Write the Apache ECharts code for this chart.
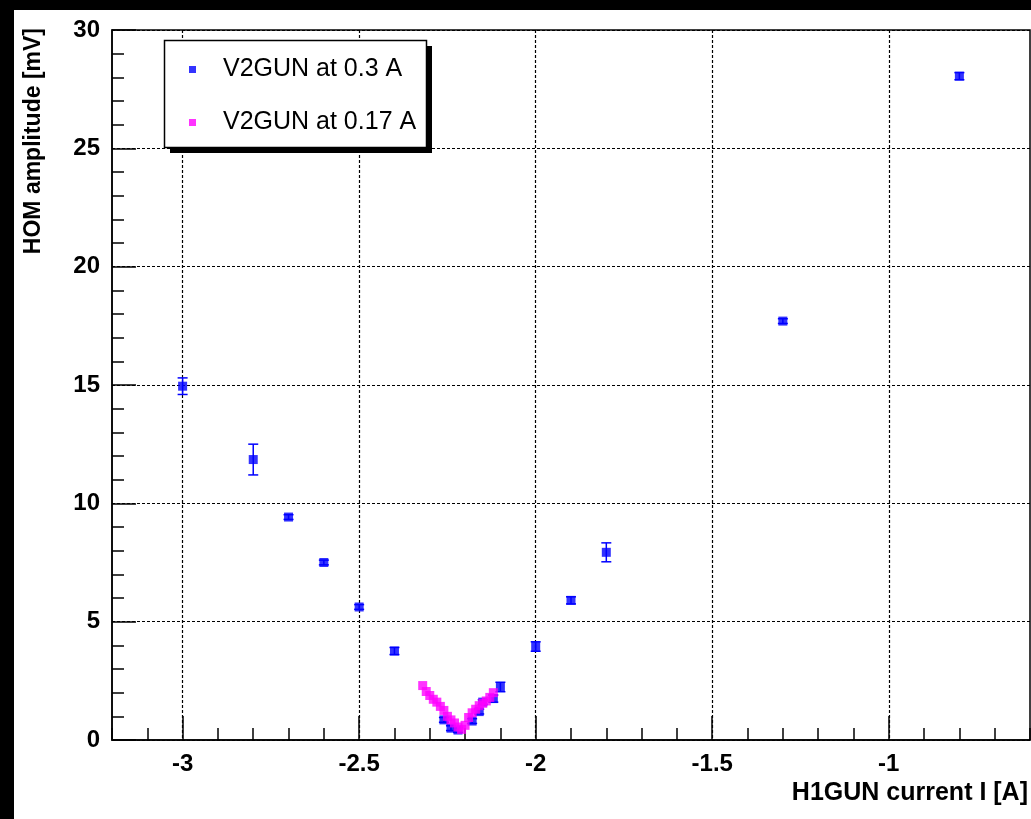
<!DOCTYPE html>
<html>
<head>
<meta charset="utf-8">
<script src="https://cdn.jsdelivr.net/npm/echarts@6/dist/echarts.min.js"></script>
<style>
  body { margin: 0; background: #000; width: 1031px; height: 819px; overflow: hidden; }
  #chart { position: absolute; left: 14px; top: 10px; width: 1017px; height: 809px; background: #fff; }
</style>
</head>
<body>
<div id="chart"></div>
<script>
// V2GUN at 0.3 A
var blueX   = [-3, -2.8, -2.7, -2.6, -2.5, -2.4, -2.26, -2.24, -2.22, -2.18, -2.16, -2.15, -2.12, -2.1, -2.0, -1.9, -1.8, -1.3, -0.8];
var blueY   = [14.95, 11.85, 9.42, 7.5, 5.62, 3.76, 0.85, 0.5, 0.42, 0.8, 1.2, 1.6, 1.75, 2.24, 3.95, 5.9, 7.93, 17.7, 28.05];
var blueErr = [0.35, 0.65, 0.1, 0.1, 0.1, 0.15, 0.1, 0.1, 0.1, 0.1, 0.1, 0.1, 0.15, 0.2, 0.2, 0.15, 0.4, 0.1, 0.15];

// V2GUN at 0.17 A
var pinkX = [-2.32, -2.31, -2.30, -2.29, -2.28, -2.27, -2.26, -2.25, -2.24, -2.23, -2.22, -2.21, -2.20, -2.19, -2.18, -2.17, -2.16, -2.15, -2.14, -2.13, -2.12];
var pinkY = [2.3, 2.05, 1.88, 1.72, 1.6, 1.42, 1.25, 1.0, 0.85, 0.72, 0.55, 0.45, 0.62, 0.95, 1.15, 1.3, 1.45, 1.55, 1.65, 1.8, 2.0];

var xMajor = [-3, -2.5, -2, -1.5, -1];
var seriesNames = ['V2GUN at 0.3 A', 'V2GUN at 0.17 A'];

var FONT = 'Liberation Sans, Arial, sans-serif';

function pts(xs, ys) {
    return xs.map(function (x, i) { return [x, ys[i]]; });
}
function errs(xs, ys, es) {
    return xs.map(function (x, i) { return [x, ys[i] - es[i], ys[i] + es[i]]; });
}

var chart = echarts.init(document.getElementById('chart'));

var option = {
    animation: false,
    grid: {
        left: 98, top: 20, right: 1, bottom: 79,
        show: true, borderColor: '#000', borderWidth: 1.5, backgroundColor: '#fff'
    },
    legend: {
        data: seriesNames,
        orient: 'vertical',
        left: 150, top: 33,
        icon: 'rect',
        itemWidth: 7, itemHeight: 7,
        itemGap: 28,
        padding: [14, 12, 14, 25],
        z: 10,
        textStyle: { fontFamily: FONT, fontSize: 25, color: '#000', padding: [0, 0, 0, 22] }
    },
    xAxis: [{
        type: 'value', min: -3.2, max: -0.6,
        axisLine: { lineStyle: { color: '#000', width: 1.5 } },
        axisTick: { inside: true, length: 24, customValues: xMajor, lineStyle: { color: '#000', width: 1.5 } },
        axisLabel: { customValues: xMajor, margin: 12, color: '#000', fontFamily: FONT, fontWeight: 'bold', fontSize: 24 },
        splitLine: { show: true, lineStyle: { color: '#000', type: [3, 2], width: 1.2 } }
    }, {
        type: 'value', min: -3.2, max: -0.6, interval: 0.1, position: 'bottom', offset: 0,
        axisLine: { show: false },
        axisTick: { inside: true, length: 12, lineStyle: { color: '#000', width: 1.5 } },
        axisLabel: { show: false },
        splitLine: { show: false }
    }],
    yAxis: {
        type: 'value', min: 0, max: 30, interval: 5,
        axisLine: { show: true, lineStyle: { color: '#000', width: 1.5 } },
        axisTick: { show: true, inside: true, length: 24, lineStyle: { color: '#000', width: 1.5 } },
        minorTick: { show: true, splitNumber: 5, length: 12, lineStyle: { color: '#000', width: 1.5 } },
        axisLabel: { margin: 12, color: '#000', fontFamily: FONT, fontWeight: 'bold', fontSize: 24 },
        splitLine: { show: true, lineStyle: { color: '#000', type: [3, 2], width: 1.2 } }
    },
    graphic: [{
        // legend shadow and box
        type: 'rect', z: 8, shape: { x: 156, y: 36, width: 262, height: 107 },
        style: { fill: '#000' }
    }, {
        type: 'rect', z: 9, shape: { x: 150.5, y: 30.5, width: 262, height: 107 },
        style: { fill: '#fff', stroke: '#000', lineWidth: 1.5 }
    }, {
        type: 'text', x: 20, y: 18, rotation: Math.PI / 2,
        style: { text: 'HOM amplitude [mV]', fill: '#000', font: 'bold 23px ' + FONT, align: 'right', verticalAlign: 'middle' }
    }, {
        type: 'text', x: 1014, y: 783,
        style: { text: 'H1GUN current I [A]', fill: '#000', font: 'bold 25px ' + FONT, align: 'right', verticalAlign: 'middle' }
    }],
    series: [{
        type: 'custom',
        xAxisIndex: 0,
        data: errs(blueX, blueY, blueErr),
        encode: { x: 0, y: [1, 2] },
        z: 2,
        renderItem: function (params, api) {
            var x = api.value(0);
            var lo = api.coord([x, api.value(1)]);
            var hi = api.coord([x, api.value(2)]);
            var st = { stroke: '#0000ff', lineWidth: 1.5 };
            return {
                type: 'group',
                children: [
                    { type: 'line', shape: { x1: lo[0], y1: lo[1], x2: hi[0], y2: hi[1] }, style: st },
                    { type: 'line', shape: { x1: lo[0] - 5, y1: lo[1], x2: lo[0] + 5, y2: lo[1] }, style: st },
                    { type: 'line', shape: { x1: hi[0] - 5, y1: hi[1], x2: hi[0] + 5, y2: hi[1] }, style: st }
                ]
            };
        }
    }, {
        name: seriesNames[0],
        type: 'scatter',
        xAxisIndex: 0,
        symbol: 'rect', symbolSize: 9,
        itemStyle: { color: '#0000ff' },
        data: pts(blueX, blueY),
        z: 3
    }, {
        name: seriesNames[1],
        type: 'scatter',
        xAxisIndex: 0,
        symbol: 'rect', symbolSize: 9,
        itemStyle: { color: '#ff00ff' },
        data: pts(pinkX, pinkY),
        z: 4
    }]
};

chart.setOption(option);
</script>
</body>
</html>
